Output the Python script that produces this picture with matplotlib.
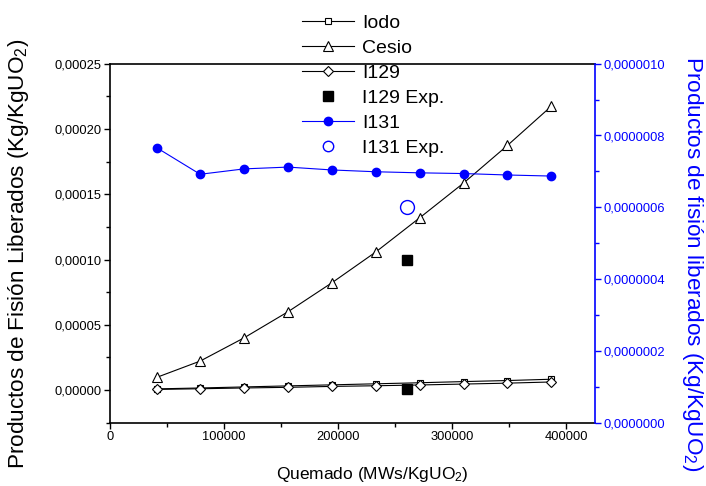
import matplotlib
matplotlib.use('Agg')
import matplotlib.pyplot as plt
from matplotlib.ticker import MultipleLocator, FuncFormatter
from matplotlib.lines import Line2D

plt.rcParams['font.family'] = ['Liberation Sans', 'DejaVu Sans']
plt.rcParams['mathtext.fontset'] = 'custom'
plt.rcParams['mathtext.rm'] = 'Liberation Sans'
plt.rcParams['mathtext.it'] = 'Liberation Sans:italic'
plt.rcParams['mathtext.bf'] = 'Liberation Sans:bold'

# ---- data ----
burnup = [40900, 79000, 117500, 156000, 194500, 232800, 271300, 310000, 348300, 386800]
iodo = [0.9e-6, 1.6e-6, 2.4e-6, 3.2e-6, 4.0e-6, 4.8e-6, 5.6e-6, 6.5e-6, 7.3e-6, 8.3e-6]
cesio = [9.7e-6, 2.22e-5, 4.0e-5, 6.0e-5, 8.22e-5, 1.057e-4, 1.319e-4, 1.587e-4, 1.874e-4, 2.175e-4]
i129 = [0.5e-6, 1.0e-6, 1.6e-6, 2.1e-6, 2.8e-6, 3.3e-6, 3.9e-6, 4.6e-6, 5.3e-6, 6.2e-6]
i129_exp_x = [260000, 260000]
i129_exp_y = [1.0e-4, 0.5e-6]
i131 = [7.66e-7, 6.92e-7, 7.07e-7, 7.12e-7, 7.04e-7, 6.99e-7, 6.96e-7, 6.94e-7, 6.90e-7, 6.87e-7]
i131_exp_x = [260000]
i131_exp_y = [6.0e-7]

legend_labels = ['Iodo', 'Cesio', 'I129', 'I129 Exp.', 'I131', 'I131 Exp.']
xlabel = 'Quemado (MWs/KgUO$_2$)'
ylabel_left = 'Productos de Fisión Liberados (Kg/KgUO$_2$)'
ylabel_right = 'Productos de fisión liberados (Kg/KgUO$_2$)'

W, H = 706, 486
fig = plt.figure(figsize=(W / 100, H / 100), dpi=100)
ax = fig.add_axes([110 / W, 1 - 422.7 / H, 485 / W, 359 / H])
ax2 = ax.twinx()

lw = 0.8
h1, = ax.plot(burnup, iodo, color='black', lw=lw, marker='s', ms=5, mfc='white',
              mec='black', mew=0.8)
h2, = ax.plot(burnup, cesio, color='black', lw=lw, marker='^', ms=7.5, mfc='white',
              mec='black', mew=0.8)
h3, = ax.plot(burnup, i129, color='black', lw=lw, marker='D', ms=5, mfc='white',
              mec='black', mew=0.8)
h4, = ax.plot(i129_exp_x, i129_exp_y, ls='none', marker='s', ms=7.8, color='black')
h5, = ax2.plot(burnup, i131, color='blue', lw=lw, marker='o', ms=6)
h6, = ax2.plot(i131_exp_x, i131_exp_y, ls='none', marker='o', ms=10, mfc='none',
               mec='blue', mew=1.0)
# smaller marker for the legend entry of I131 Exp. (as in the reference)
h6_leg = Line2D([], [], ls='none', marker='o', ms=7.5, mfc='none', mec='blue', mew=1.0)

ax.set_xlim(0, 425000)
ax.set_ylim(-2.5e-5, 2.5e-4)
ax2.set_ylim(0, 1e-6)

ax.xaxis.set_major_locator(MultipleLocator(100000))
ax.xaxis.set_minor_locator(MultipleLocator(50000))
ax.yaxis.set_major_locator(MultipleLocator(5e-5))
ax.yaxis.set_minor_locator(MultipleLocator(2.5e-5))
ax2.yaxis.set_major_locator(MultipleLocator(2e-7))
ax2.yaxis.set_minor_locator(MultipleLocator(1e-7))

ax.xaxis.set_major_formatter(FuncFormatter(lambda v, p: '%d' % round(v)))
ax.yaxis.set_major_formatter(FuncFormatter(lambda v, p: ('%.5f' % v).replace('.', ',').replace('-0,00000', '0,00000')))
ax2.yaxis.set_major_formatter(FuncFormatter(lambda v, p: ('%.7f' % v).replace('.', ',')))

ax.tick_params(which='both', direction='out', top=False, right=False, labelsize=9.3, pad=2, width=1.0)
ax.tick_params(which='major', length=4.3)
ax.tick_params(which='minor', length=2.8)
ax2.tick_params(which='both', direction='out', colors='blue', labelsize=9.3, pad=2, width=1.0)
ax2.tick_params(which='major', length=4.3)
ax2.tick_params(which='minor', length=2.8)

for s in ['left', 'bottom', 'top']:
    ax.spines[s].set_linewidth(1.2)
ax.spines['right'].set_visible(False)
for s in ['left', 'bottom', 'top']:
    ax2.spines[s].set_visible(False)
ax2.spines['right'].set_color('blue')
ax2.spines['right'].set_linewidth(1.2)

ax.set_xlabel(xlabel, fontsize=12.5, va='center')
ax.xaxis.set_label_coords((372 - 110) / 485, (422.7 - 475) / 359)
ax.set_ylabel(ylabel_left, fontsize=16.2, va='center')
ax.yaxis.set_label_coords((19 - 110) / 485, 0.47)
ax2.set_ylabel(ylabel_right, fontsize=16.2, va='center', rotation=270, color='blue')
ax2.yaxis.set_label_coords((692 - 110) / 485, 0.442)

leg = ax.legend([h1, h2, h3, h4, h5, h6_leg], legend_labels,
                loc='upper left', bbox_to_anchor=(301.7 / W, 1 - 14 / H),
                bbox_transform=fig.transFigure, frameon=False,
                fontsize=14, handlelength=2.7, handletextpad=0.4, labelspacing=0.38,
                borderpad=0, borderaxespad=0)
leg.set_zorder(2)

fig.savefig('out.png', dpi=100)
